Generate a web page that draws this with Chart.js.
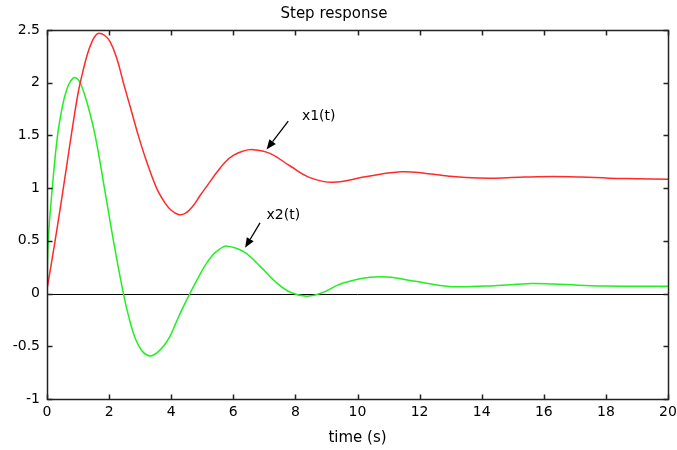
<!DOCTYPE html>
<html><head><meta charset="utf-8">
<script src="https://cdn.jsdelivr.net/npm/chart.js@4/dist/chart.umd.min.js"></script>
<style>html,body{margin:0;padding:0;background:#fff}</style>
</head><body>
<canvas id="c" width="677" height="450"></canvas>
<script>
// ---- data ----
const x1Time  = [0, 0.25, 0.5, 0.75, 0.85, 1.0, 1.15, 1.3, 1.45, 1.57, 1.67, 1.85, 2.03, 2.24, 2.46, 2.7, 2.94, 3.2, 3.53, 3.8, 4.0, 4.23, 4.45, 4.7, 4.93, 5.2, 5.47, 5.75, 6.0, 6.3, 6.64, 7.18, 7.83, 8.47, 9.2, 10.3, 11.4, 12.2, 12.9, 13.5, 14.4, 15.4, 16.3, 17.2, 18.1, 19, 20];
const x1Value = [0.04, 0.48, 0.95, 1.44, 1.63, 1.9, 2.1, 2.27, 2.39, 2.45, 2.47, 2.45, 2.39, 2.24, 2.0, 1.75, 1.5, 1.26, 1.0, 0.86, 0.79, 0.75, 0.76, 0.83, 0.93, 1.04, 1.15, 1.25, 1.31, 1.35, 1.365, 1.33, 1.21, 1.10, 1.055, 1.11, 1.155, 1.14, 1.115, 1.10, 1.095, 1.105, 1.11, 1.105, 1.095, 1.09, 1.085];
const x2Time  = [0, 0.04, 0.17, 0.34, 0.5, 0.63, 0.75, 0.88, 1.0, 1.1, 1.3, 1.55, 1.85, 2.14, 2.46, 2.65, 2.85, 3.05, 3.2, 3.37, 3.55, 3.75, 3.95, 4.15, 4.35, 4.6, 4.85, 5.1, 5.35, 5.55, 5.79, 6.32, 6.86, 7.4, 7.85, 8.36, 8.8, 9.54, 10.72, 11.8, 12.6, 13.2, 14.4, 15.6, 16.3, 17.1, 18, 20];
const x2Value = [0, 0.5, 1.0, 1.5, 1.78, 1.93, 2.01, 2.05, 2.03, 1.98, 1.8, 1.5, 1.0, 0.5, 0, -0.24, -0.43, -0.54, -0.58, -0.59, -0.56, -0.5, -0.41, -0.28, -0.15, 0, 0.14, 0.27, 0.37, 0.42, 0.45, 0.40, 0.26, 0.10, 0.01, -0.025, 0, 0.10, 0.16, 0.12, 0.08, 0.064, 0.075, 0.095, 0.09, 0.08, 0.072, 0.07];
const xTicks = [0, 2, 4, 6, 8, 10, 12, 14, 16, 18, 20];
const yTicks = [-1, -0.5, 0, 0.5, 1, 1.5, 2, 2.5];
const chartTitle = 'Step response';
const xTitle = 'time (s)';
const annotationLabels = ['x1(t)', 'x2(t)'];
// annotation anchor points in data units: [textX, textY, tailX, tailY, headX, headY]
const annotationPoints = [
  [8.21, 1.68, 7.77, 1.635, 7.07, 1.366],
  [7.07, 0.74, 6.86, 0.67, 6.38, 0.434]
];

const FONT = 'DejaVu Sans';

const framePlugin = {
  id: 'frame',
  beforeDatasetsDraw(chart) {
    const {ctx, chartArea: a, scales: {y}} = chart;
    const y0 = Math.round(y.getPixelForValue(0)) + 0.5;
    ctx.save();
    ctx.strokeStyle = '#000';
    ctx.lineWidth = 1;
    ctx.beginPath();
    ctx.moveTo(a.left, y0);
    ctx.lineTo(a.right, y0);
    ctx.stroke();
    ctx.restore();
  },
  afterDatasetsDraw(chart) {
    const {ctx, chartArea: a, scales: {x, y}} = chart;
    ctx.save();
    ctx.strokeStyle = '#222';
    ctx.lineWidth = 1.5;
    const L = Math.round(a.left) + 0.5, R = Math.round(a.right) + 0.5;
    const T = Math.round(a.top) + 0.5, B = Math.round(a.bottom) + 0.5;
    ctx.strokeRect(L, T, R - L, B - T);
    const tl = 5;
    ctx.beginPath();
    xTicks.forEach(v => {
      const px = Math.round(x.getPixelForValue(v)) + 0.5;
      ctx.moveTo(px, B); ctx.lineTo(px, B - tl);
      ctx.moveTo(px, T); ctx.lineTo(px, T + tl);
    });
    yTicks.forEach(v => {
      const py = Math.round(y.getPixelForValue(v)) + 0.5;
      ctx.moveTo(L, py); ctx.lineTo(L + tl, py);
      ctx.moveTo(R, py); ctx.lineTo(R - tl, py);
    });
    ctx.stroke();

    // annotations
    ctx.fillStyle = '#000';
    ctx.strokeStyle = '#000';
    ctx.lineWidth = 1.3;
    ctx.font = '14px "' + FONT + '"';
    ctx.textAlign = 'left';
    ctx.textBaseline = 'middle';
    annotationPoints.forEach((p, i) => {
      const tx = x.getPixelForValue(p[0]), ty = y.getPixelForValue(p[1]);
      ctx.fillText(annotationLabels[i], tx, ty);
      const ax = x.getPixelForValue(p[2]), ay = y.getPixelForValue(p[3]);
      const hx = x.getPixelForValue(p[4]), hy = y.getPixelForValue(p[5]);
      const ang = Math.atan2(hy - ay, hx - ax);
      const hl = 10, hw = 4;
      const bx = hx - hl * Math.cos(ang), by = hy - hl * Math.sin(ang);
      ctx.beginPath();
      ctx.moveTo(ax, ay); ctx.lineTo(bx, by);
      ctx.stroke();
      ctx.beginPath();
      ctx.moveTo(hx, hy);
      ctx.lineTo(bx + hw * Math.sin(ang), by - hw * Math.cos(ang));
      ctx.lineTo(bx - hw * Math.sin(ang), by + hw * Math.cos(ang));
      ctx.closePath();
      ctx.fill();
    });
    ctx.restore();
  }
};

const toXY = (ts, vs) => ts.map((t, i) => ({x: t, y: vs[i]}));

new Chart(document.getElementById('c'), {
  type: 'line',
  data: {
    datasets: [
      {label: 'x1(t)', data: toXY(x1Time, x1Value), borderColor: '#ff2a2a', borderWidth: 1.5,
       pointRadius: 0, fill: false, tension: 0.4},
      {label: 'x2(t)', data: toXY(x2Time, x2Value), borderColor: '#22ee22', borderWidth: 1.5,
       pointRadius: 0, fill: false, tension: 0.4}
    ]
  },
  options: {
    responsive: false,
    animation: false,
    devicePixelRatio: 1,
    layout: {padding: {left: 0, right: 9, top: 0, bottom: 0}},
    plugins: {
      legend: {display: false},
      tooltip: {enabled: false},
      title: {display: true, text: chartTitle, color: '#000',
        font: {family: FONT, size: 15, weight: 'normal'}, padding: {top: 5, bottom: 7}}
    },
    scales: {
      x: {
        type: 'linear', min: 0, max: 20,
        afterBuildTicks: s => { s.ticks = xTicks.map(v => ({value: v})); },
        afterFit: s => { s.height = 51; s.paddingRight = 0; s.paddingLeft = 0; },
        grid: {display: false, drawTicks: false},
        border: {display: false},
        ticks: {color: '#000', padding: 5, maxRotation: 0, autoSkip: false,
          font: {family: FONT, size: 14}, callback: v => String(v)},
        title: {display: true, text: xTitle, color: '#000',
          font: {family: FONT, size: 15}, padding: {top: 0, bottom: 3}}
      },
      y: {
        type: 'linear', min: -1, max: 2.5,
        afterBuildTicks: s => { s.ticks = yTicks.map(v => ({value: v})); },
        afterFit: s => { s.width = 47; s.paddingTop = 0; s.paddingBottom = 0; },
        grid: {display: false, drawTicks: false},
        border: {display: false},
        ticks: {color: '#000', padding: 7, autoSkip: false,
          font: {family: FONT, size: 14}, callback: v => String(v)}
      }
    }
  },
  plugins: [framePlugin]
});
</script>
</body></html>
